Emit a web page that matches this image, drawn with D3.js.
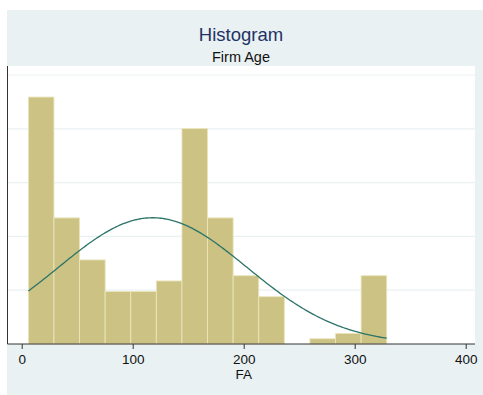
<!DOCTYPE html>
<html>
<head>
<meta charset="utf-8">
<script src="https://cdn.jsdelivr.net/npm/d3@7"></script>
<style>
  html, body { margin: 0; padding: 0; background: #ffffff; }
  svg { display: block; font-family: "Liberation Sans", Arial, sans-serif; }
</style>
</head>
<body>
<svg id="chart" width="483" height="395"></svg>
<script>
// Firm age histogram: bins start at the minimum age and share one width
const binStart = 6;
const binWidth = 23.06;
const binCounts = [47, 24, 16, 10, 10, 12, 41, 24, 13, 9, 0, 1, 2, 13];

// Fitted normal curve parameters
const fitMean = 118;
const fitSd = 85;

// Axis ticks
const xTicks = [0, 100, 200, 300, 400];
const yGridTicks = [0.002, 0.004, 0.006, 0.008, 0.010];

const titleText = "Histogram";
const subtitleText = "Firm Age";
const xLabel = "FA";

const svg = d3.select("#chart");

// frame
const outer = { left: 7, top: 10, right: 483, bottom: 395 };
const plot = { left: 7.5, top: 66, right: 475, bottom: 344 };

svg.append("rect")
  .attr("x", outer.left).attr("y", outer.top)
  .attr("width", outer.right - outer.left).attr("height", outer.bottom - outer.top)
  .attr("fill", "#eaf1f3");

svg.append("rect")
  .attr("x", plot.left).attr("y", plot.top)
  .attr("width", plot.right - plot.left).attr("height", plot.bottom - plot.top)
  .attr("fill", "#ffffff");

const total = d3.sum(binCounts);
const bins = binCounts.map((c, i) => ({
  x0: binStart + i * binWidth,
  x1: binStart + (i + 1) * binWidth,
  density: c / (total * binWidth)
}));

const x = d3.scaleLinear().domain([0, 400]).range([21.7, 465.7]);
const y = d3.scaleLinear().domain([0, 0.010335]).range([plot.bottom, plot.top]);

// grid
svg.append("g").selectAll("line").data(yGridTicks).join("line")
  .attr("x1", plot.left).attr("x2", plot.right)
  .attr("y1", d => y(d)).attr("y2", d => y(d))
  .attr("stroke", "#eaf1f3").attr("stroke-width", 1.2);

// bars
svg.append("g").selectAll("rect").data(bins.filter(b => b.density > 0)).join("rect")
  .attr("x", d => x(d.x0))
  .attr("y", d => y(d.density))
  .attr("width", d => x(d.x1) - x(d.x0))
  .attr("height", d => y(0) - y(d.density))
  .attr("fill", "#cbc283")
  .attr("stroke", "#eae5bc")
  .attr("stroke-width", 0.9);

// normal density over the data range
const xMin = binStart, xMax = binStart + binCounts.length * binWidth;
const normal = v => Math.exp(-0.5 * ((v - fitMean) / fitSd) ** 2) / (fitSd * Math.sqrt(2 * Math.PI));
const curvePts = d3.range(0, 201).map(i => {
  const v = xMin + (xMax - xMin) * i / 200;
  return [v, normal(v)];
});
svg.append("path")
  .datum(curvePts)
  .attr("fill", "none")
  .attr("stroke", "#2b7468")
  .attr("stroke-width", 1.3)
  .attr("d", d3.line().x(d => x(d[0])).y(d => y(d[1])));

// axes
const xAxis = d3.axisBottom(x).tickValues(xTicks).tickSize(5).tickPadding(5).tickFormat(d3.format("d"));
const gx = svg.append("g").attr("transform", `translate(0,${plot.bottom})`).call(xAxis);
gx.select(".domain").remove();
gx.append("line").attr("x1", plot.left).attr("x2", plot.right).attr("y1", 0).attr("y2", 0)
  .attr("stroke", "#333333").attr("stroke-width", 1);
gx.selectAll(".tick line").attr("stroke", "#333333");
gx.selectAll(".tick text").attr("fill", "#111111").attr("font-size", 13.5)
  .attr("font-family", "Liberation Sans, Arial, sans-serif");

svg.append("line")
  .attr("x1", plot.left).attr("x2", plot.left)
  .attr("y1", plot.top).attr("y2", plot.bottom)
  .attr("stroke", "#333333").attr("stroke-width", 1);

// titles
svg.append("text").attr("x", 241).attr("y", 41)
  .attr("text-anchor", "middle").attr("font-size", 18.5).attr("fill", "#1f3364")
  .text(titleText);
svg.append("text").attr("x", 241).attr("y", 62)
  .attr("text-anchor", "middle").attr("font-size", 14.5).attr("fill", "#111111")
  .text(subtitleText);
svg.append("text").attr("x", x(200)).attr("y", 379)
  .attr("text-anchor", "middle").attr("font-size", 13.5).attr("fill", "#111111")
  .text(xLabel);
</script>
</body>
</html>
